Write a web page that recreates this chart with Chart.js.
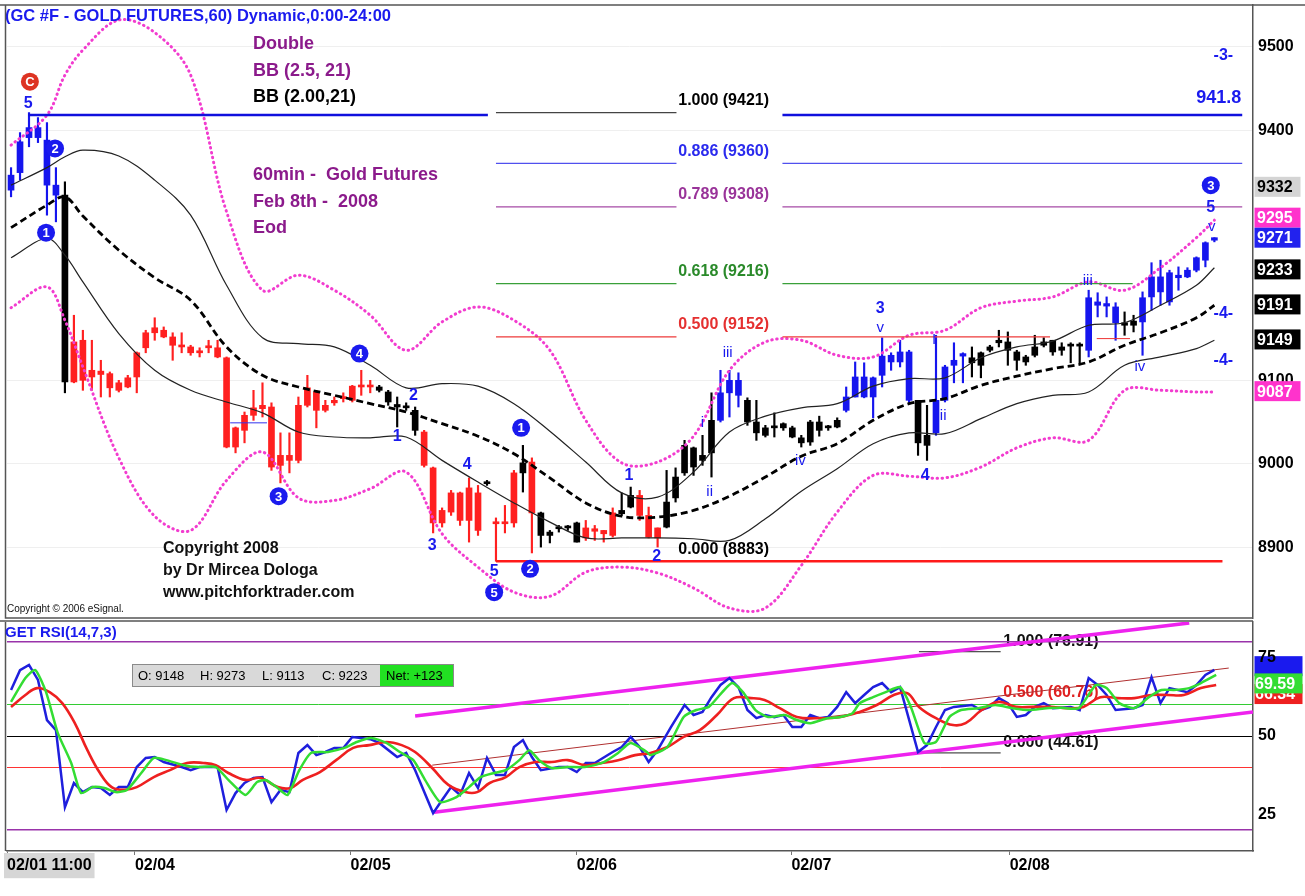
<!DOCTYPE html>
<html>
<head>
<meta charset="utf-8">
<title>GC #F Gold Futures 60min</title>
<script src="https://cdn.jsdelivr.net/npm/chart.js@4.4.1/dist/chart.umd.min.js"></script>
<style>
  body { margin: 0; background: #fff; }
  #priceBox { position: absolute; left: 0; top: 0; width: 1305px; height: 620px; }
  #rsiBox { position: absolute; left: 0; top: 620px; width: 1305px; height: 276px; }
</style>
</head>
<body>
<div id="priceBox"><canvas id="priceChart" width="1305" height="620"></canvas></div>
<div id="rsiBox"><canvas id="rsiChart" width="1305" height="276"></canvas></div>
<script>
const FONT = '"Liberation Sans", Arial, sans-serif';
const BLUE = '#1a1aee';

// hourly candles, 02/01 11:00 -> 02/08 (prices x10)
const barHigh = [
  9355,9397,9421,9415,9409,9355,9338,9178,9160,9148,
  9124,9110,9100,9106,9134,9160,9175,9164,9157,9157,
  9142,9139,9148,9148,9128,9044,9062,9088,9097,9073,
  9037,9037,9080,9106,9088,9076,9080,9085,9094,9112,
  9100,9094,9088,9080,9073,9068,9040,8996,8947,8968,
  8966,8983,8974,8980,8935,8950,8992,9022,9007,8942,
  8920,8926,8926,8930,8932,8926,8920,8947,8965,8972,
  8968,8948,8923,8992,8995,9028,9020,9034,9085,9112,
  9112,9109,9079,9076,9046,9061,9049,9045,9034,9052,
  9057,9046,9055,9092,9122,9121,9104,9151,9133,9148,
  9136,9076,9070,9154,9118,9145,9133,9140,9134,9142,
  9160,9158,9136,9130,9154,9151,9148,9145,9145,9145,
  9208,9205,9200,9193,9182,9178,9206,9241,9244,9232,
  9236,9235,9248,9266,9271
];
const barLow = [
  9320,9340,9380,9385,9298,9290,9085,9097,9088,9088,
  9080,9080,9086,9091,9085,9133,9148,9151,9124,9133,
  9130,9128,9133,9127,9019,9013,9025,9052,9056,8992,
  8977,8989,9001,9068,9043,9062,9070,9074,9074,9082,
  9085,9086,9070,9044,9064,9034,8996,8917,8924,8938,
  8926,8906,8914,8974,8883,8917,8924,8966,8893,8900,
  8905,8918,8920,8906,8908,8908,8906,8912,8938,8947,
  8932,8911,8900,8923,8954,8986,8986,8998,8984,9050,
  9056,9068,9046,9028,9032,9032,9040,9031,9020,9022,
  9033,9040,9043,9062,9080,9079,9055,9092,9112,9116,
  9073,9010,9004,9034,9074,9097,9097,9104,9103,9134,
  9140,9118,9112,9118,9128,9140,9130,9130,9121,9121,
  9128,9176,9176,9148,9154,9158,9130,9184,9190,9190,
  9208,9223,9230,9236,9266
];
const barOpen = [
  9328,9349,9391,9403,9388,9334,9322,9098,9148,9104,
  9111,9108,9097,9092,9104,9139,9157,9160,9152,9142,
  9140,9133,9139,9139,9127,9020,9040,9058,9066,9068,
  8998,9010,9004,9070,9086,9064,9073,9078,9076,9092,
  9094,9092,9086,9071,9069,9064,9038,8995,8929,8942,
  8965,8932,8965,8976,8928,8930,8929,8989,9002,8941,
  8914,8922,8924,8929,8911,8922,8916,8914,8940,8948,
  8962,8938,8911,8924,8959,8989,9019,9004,9013,9052,
  9085,9100,9076,9050,9043,9043,9048,9043,9031,9026,
  9050,9043,9044,9064,9080,9104,9080,9106,9122,9122,
  9134,9076,9022,9037,9076,9118,9129,9127,9118,9136,
  9145,9146,9134,9122,9130,9142,9148,9136,9141,9142,
  9136,9194,9189,9188,9169,9166,9170,9200,9224,9194,
  9226,9224,9232,9244,9268
];
const barClose = [
  9346,9386,9403,9391,9334,9322,9098,9146,9100,9112,
  9107,9091,9088,9103,9133,9157,9163,9152,9142,9140,
  9133,9135,9141,9128,9020,9043,9058,9067,9070,8996,
  9010,9004,9070,9091,9064,9070,9076,9080,9093,9094,
  9092,9088,9074,9068,9067,9040,8998,8929,8944,8965,
  8932,8971,8920,8978,8930,8928,8989,9001,8941,8914,
  8918,8924,8923,8906,8923,8919,8920,8941,8944,8962,
  8938,8912,8923,8954,8984,9022,8996,9010,9052,9085,
  9100,9082,9050,9037,9034,9045,9043,9032,9025,9050,
  9040,9044,9052,9080,9104,9080,9103,9129,9130,9134,
  9076,9025,9034,9076,9116,9124,9132,9121,9133,9140,
  9148,9136,9124,9128,9140,9146,9134,9140,9142,9141,
  9199,9190,9192,9169,9166,9171,9199,9224,9206,9229,
  9223,9232,9247,9265,9271
];
// bar colouring: b = blue, r = red, k = black
const barTone =
  'bbbbbbk' +
  'rrrrrrrrrr' + 'rrrrrrrrrr' + 'rrrrrrrrrr' + 'rrrr' +
  'kkkkk' + 'rrrrrrr' + 'k' + 'rrr' + 'k' + 'r' + 'kkkkk' + 'rrrr' + 'kk' + 'rrr' +
  'kkkkkk' + 'bbb' + 'kkkkkkkkkkk' + 'bbbbbbbb' + 'kk' + 'bbbb' +
  'kkkkkkkkkkkkk' + 'bbbb' + 'kk' + 'bbbbbbbbb';

// Bollinger bands read at these bar positions
const bandAt = [0,4,6,8,12,16,20,24,28,32,36,40,44,48,52,56,60,64,68,72,76,80,84,88,92,96,100,104,108,112,116,120,124,128,132,134];
const bandMid = [9283,9310,9320,9297,9256,9223,9196,9140,9106,9092,9082,9072,9062,9048,9033,9012,8983,8953,8937,8936,8944,8961,8984,9009,9024,9052,9072,9078,9094,9105,9114,9122,9142,9157,9175,9190];
const bandUpper = [9334,9355,9368,9376,9369,9340,9298,9214,9151,9144,9140,9118,9091,9096,9093,9072,9039,9002,8965,8960,8990,9038,9057,9067,9072,9093,9102,9103,9127,9140,9147,9166,9169,9190,9214,9235];
const bandLower = [9247,9270,9250,9218,9156,9112,9088,9074,9061,9038,9032,9031,9032,9004,8978,8953,8930,8911,8911,8911,8910,8908,8934,8967,8994,9024,9037,9036,9054,9072,9082,9086,9118,9128,9138,9148];
const outerUpper = [9382,9418,9466,9496,9532,9517,9466,9302,9208,9226,9208,9178,9136,9170,9188,9172,9136,9052,9001,9002,9033,9112,9146,9148,9130,9128,9154,9160,9187,9195,9200,9218,9208,9235,9271,9292];
const outerLower = [9187,9212,9172,9116,9007,8937,8920,8980,9014,8959,8956,8970,8990,8916,8876,8846,8841,8870,8876,8869,8851,8827,8827,8878,8942,8986,8985,8983,8996,9019,9031,9028,9088,9088,9086,9086];

const priceTicks = [8900, 9000, 9100, 9400, 9500];
const dayTicks = [-0.45, 13.8, 37.8, 63.0, 86.9, 111.2];
const dayLabels = ['02/01 11:00', '02/04', '02/05', '02/06', '02/07', '02/08'];

const fibRatio = ['1.000', '0.886', '0.789', '0.618', '0.500', '0.000'];
const fibPrice = [9421, 9360, 9308, 9216, 9152, 8883];
const fibRightEnd = [null, 137.1, 137.1, 124.9, 115.7, null];
const fibText = ['#000000', '#2a2aee', '#993399', '#2a8a2a', '#e53030', '#000000'];
const fibLine = ['#444444', '#5050ee', '#a64aa6', '#3aa03a', '#ee3a3a', null];

const lastValues = [9332, 9295, 9271, 9233, 9191, 9149, 9087];
const lastFill = ['#d4d4d4', '#ff33cc', '#2222ee', '#000000', '#000000', '#000000', '#ff33cc'];

// wave counts: [bar position, price, text, kind]
const waveMarks = [
  [2.1, 9458, 'C', 'red'], [1.9, 9432, '5', 'num'], [4.9, 9378, '2', 'ring'], [3.9, 9277, '1', 'ring'],
  [38.8, 9132, '4', 'ring'], [44.8, 9082, '2', 'num'], [43.0, 9032, '1', 'num'], [29.8, 8961, '3', 'ring'],
  [46.9, 8902, '3', 'num'], [50.8, 8999, '4', 'num'], [53.8, 8871, '5', 'num'], [53.8, 8846, '5', 'ring'],
  [56.8, 9043, '1', 'ring'], [57.8, 8874, '2', 'ring'], [68.8, 8986, '1', 'num'], [71.9, 8889, '2', 'num'],
  [77.0, 9049, 'i', 'rom'], [77.8, 8966, 'ii', 'rom'], [79.8, 9133, 'iii', 'rom'], [87.9, 9004, 'iv', 'rom'],
  [96.8, 9186, '3', 'num'], [96.8, 9163, 'v', 'rom'], [101.8, 8986, '4', 'num'], [102.8, 9148, 'I', 'rom'],
  [103.8, 9057, 'ii', 'rom'], [119.9, 9219, 'iii', 'rom'], [125.7, 9116, 'iv', 'rom'],
  [133.6, 9334, '3', 'ring'], [133.6, 9307, '5', 'num'], [133.7, 9284, 'v', 'rom'],
  [135.0, 9489, '-3-', 'num'], [135.0, 9180, '-4-', 'num'], [135.0, 9124, '-4-', 'num']
];

// RSI(14,7,3) lines as [bar position, value]
const rsiFast = [
  [0,64.7],[1,71.0],[2,72.7],[3,67.9],[4,55.1],[5,51.9],[6,27.3],[7,35.0],[8,32.1],[9,33.7],[10,33.4],[11,31.2],
  [12,33.7],[13,33.7],[14,40.1],[15,43.0],[16,43.3],[17,41.7],[19,40.1],[20,39.1],[21,40.1],[23,40.1],[24,26.4],
  [25,31.8],[26,35.0],[27,36.6],[28,36.9],[29,28.9],[30,32.8],[31,32.1],[32,44.6],[33,47.1],[34,43.9],[35,44.9],
  [36,46.2],[37,46.2],[38,49.7],[39,49.4],[40,49.0],[41,47.8],[43,43.3],[44,44.6],[45,39.1],[47,25.4],[48,29.6],
  [49,33.7],[50,31.2],[51,38.2],[52,33.4],[53,43.0],[54,37.6],[55,37.6],[56,46.5],[57,48.7],[58,43.3],[59,39.1],
  [61,40.1],[62,40.1],[63,38.5],[64,41.4],[65,41.4],[67,44.9],[68,46.5],[69,49.7],[70,46.5],[71,41.7],[72,45.5],
  [73.5,52.9],[75,59.9],[76,56.7],[77,57.7],[78,62.4],[79,66.3],[80,68.5],[81,65.6],[82,58.3],[83,55.7],[84,56.7],
  [85,56.0],[86,56.7],[87,52.9],[88,52.9],[89,56.7],[90,55.7],[91,56.1],[92,59.3],[93,64.0],[94,60.5],[95,63.1],
  [96,65.6],[97,66.9],[98,64.0],[99,65.6],[101,44.9],[102,47.1],[103,52.9],[104,58.3],[105,59.3],[107,59.9],
  [108,58.3],[109,59.3],[110,62.1],[111,60.5],[112,56.1],[113,56.7],[114,59.3],[115,60.5],[116,58.9],[118,59.3],
  [119,58.3],[120,68.5],[121,66.3],[122,63.1],[123,58.3],[125,58.9],[126,59.9],[127,68.8],[128,60.5],[129,65.3],
  [131,64.0],[132,66.3],[133,69.5],[134,71.1]
];
const rsiSignal = [
  [0,60.9],[1.6,68.5],[2.7,71.1],[3.9,64.0],[5.2,51.0],[6.7,41.4],[7.8,31.8],[9.1,33.7],[10.4,33.4],[11.7,32.1],
  [12.9,32.8],[14.5,38.2],[15.9,43.0],[17.3,42.3],[19.2,40.7],[20.9,40.1],[22.8,40.1],[24.2,36.0],[26.1,31.2],
  [27.4,35.3],[28.4,35.9],[29.7,33.4],[30.8,31.2],[32.1,39.1],[33.4,44.6],[35.3,44.9],[37.1,46.2],[38.5,48.1],
  [40.1,49.4],[41.8,47.8],[43.3,44.9],[44.8,42.3],[46.1,36.0],[47.8,28.9],[49.6,30.5],[51.0,33.7],[52.3,36.9],
  [53.8,38.2],[55.1,39.1],[56.6,42.3],[57.7,45.5],[58.8,42.3],[60.2,39.8],[62.0,40.1],[63.9,40.1],[65.8,41.4],
  [67.6,44.6],[69.0,47.8],[70.8,44.9],[71.2,43.9],[73.1,46.5],[74.9,56.1],[76.3,58.3],[77.7,59.3],[79.2,64.0],
  [80.3,66.9],[81.5,64.0],[82.9,58.3],[84.3,56.1],[86.2,56.7],[87.5,55.1],[89.0,54.1],[90.9,55.7],[92.2,56.0],
  [93.7,57.3],[94.5,60.5],[96.0,62.4],[97.4,64.0],[99.0,65.6],[100.2,59.3],[101.7,47.8],[103.0,48.1],[104.5,56.1],
  [105.8,58.3],[107.7,58.9],[109.6,59.9],[111.5,58.9],[113.4,58.3],[115.3,58.9],[117.0,59.0],[118.9,58.9],
  [120.8,66.3],[122.0,65.3],[123.4,60.5],[125.1,58.9],[126.7,62.4],[128.1,64.7],[129.5,64.7],[131.2,65.3],
  [132.5,66.9],[134.2,69.5]
];
const rsiSlow = [
  [0,59.3],[1.6,63.1],[2.9,65.3],[4.3,64.0],[5.7,60.5],[7.1,54.1],[8.5,45.5],[9.9,38.2],[11.2,33.7],[12.6,32.8],
  [14.0,33.7],[15.9,36.9],[17.7,39.1],[19.6,41.4],[21.4,41.4],[22.8,40.7],[24.2,38.2],[26.1,36.0],[27.8,36.6],
  [29.7,33.7],[31.1,33.4],[32.5,36.0],[34.4,38.5],[36.2,42.3],[38.1,46.2],[39.9,47.1],[41.8,48.1],[43.5,47.1],
  [45.0,44.9],[46.9,39.8],[48.7,34.4],[50.6,32.1],[51.9,32.1],[53.3,35.0],[55.1,36.9],[56.6,40.1],[58.4,41.7],
  [60.2,41.7],[62.0,42.3],[63.9,40.7],[65.8,41.4],[67.6,42.3],[69.5,43.9],[71.2,44.6],[73.1,46.5],[74.9,49.7],
  [76.7,51.9],[78.6,56.7],[80.5,62.1],[82.4,62.1],[83.9,61.5],[85.6,58.9],[87.5,56.1],[89.9,55.7],[92.2,56.0],
  [94.5,57.7],[96.4,59.9],[98.3,63.1],[99.8,63.7],[101.1,59.3],[103.0,55.7],[104.9,53.5],[106.3,54.1],[108.1,58.3],
  [110.0,60.9],[111.9,59.3],[113.8,59.3],[115.7,59.3],[117.6,58.9],[119.4,59.3],[121.3,62.4],[123.2,62.1],
  [125.1,62.1],[127.0,63.1],[128.8,63.1],[130.6,63.1],[132.5,65.3],[134.2,66.3]
];
const rsiChannelUp = [[45.0, 56.4], [131.2, 86.1]];
const rsiChannelDown = [[47.1, 25.7], [138.3, 57.7]];
const rsiMidTrend = [[46.9, 40.7], [135.6, 71.7]];
const rsiTicks = [20, 25, 40, 50, 60, 75, 80];
const rsiFibRatio = ['1.000', '0.500', '0.000'];
const rsiFibValue = [76.91, 60.76, 44.61];
const rsiLastAt = [72.3, 63.4, 66.8];
const rsiLastText = ['', '66.34', '69.59'];
const rsiLastFill = ['#1a1aee', '#ee2020', '#33dd33'];
const quoteNames = ['O', 'H', 'L', 'C'];
const quoteValues = [9148, 9273, 9113, 9223];
const quoteNet = '+123';

const toneColor = { b: '#1515ee', r: '#ff2020', k: '#000000' };
const pts = pairs => pairs.map(p => ({ x: p[0], y: p[1] }));
const band = vals => bandAt.map((x, k) => ({ x, y: vals[k] }));

function txt(ctx, s, x, y, font, color, align) {
  ctx.font = font;
  ctx.fillStyle = color;
  ctx.textAlign = align || 'left';
  ctx.textBaseline = 'middle';
  ctx.fillText(s, x, y);
}
function hline(ctx, x1, x2, y, color, w) {
  ctx.beginPath();
  ctx.strokeStyle = color;
  ctx.lineWidth = w;
  ctx.moveTo(x1, y);
  ctx.lineTo(x2, y);
  ctx.stroke();
}
function ring(ctx, s, x, y, fill) {
  ctx.beginPath();
  ctx.arc(x, y, 9, 0, Math.PI * 2);
  ctx.fillStyle = fill;
  ctx.fill();
  txt(ctx, s, x, y + 1, `bold 13px ${FONT}`, '#fff', 'center');
}
// keep the plot area flush with the layout padding (no room for half tick labels)
function noEdgePadding(s) {
  s.paddingTop = 0;
  s.paddingBottom = 0;
  s.paddingLeft = 0;
  s.paddingRight = 0;
}

const priceOverlay = {
  id: 'priceOverlay',
  afterDatasetsDraw(chart) {
    const { ctx, scales: { x, y } } = chart;
    ctx.save();
    // fibonacci retracement
    const fx1 = x.getPixelForValue(54.0), fx2 = x.getPixelForValue(74.1);
    const fxr = x.getPixelForValue(85.9), fxt = x.getPixelForValue(74.3);
    fibPrice.forEach((p, k) => {
      const py = y.getPixelForValue(p);
      if (fibLine[k]) hline(ctx, fx1, fx2, py, fibLine[k], 1.2);
      if (fibRightEnd[k]) hline(ctx, fxr, x.getPixelForValue(fibRightEnd[k]), py, fibLine[k], 1.2);
      txt(ctx, `${fibRatio[k]} (${p})`, fxt, py - 12, `bold 16px ${FONT}`, fibText[k]);
    });
    // horizontal reference lines
    const y9418 = y.getPixelForValue(9418);
    hline(ctx, x.getPixelForValue(1.9), x.getPixelForValue(53.1), y9418, '#1010dd', 2.5);
    hline(ctx, fxr, x.getPixelForValue(137.1), y9418, '#1010dd', 2.5);
    hline(ctx, fx1, x.getPixelForValue(134.9), y.getPixelForValue(8883), '#ff1a1a', 2.5);
    hline(ctx, x.getPixelForValue(24.4), x.getPixelForValue(28.5), y.getPixelForValue(9049), '#3333ee', 1);
    hline(ctx, x.getPixelForValue(120.9), x.getPixelForValue(124.6), y.getPixelForValue(9150), '#ee3333', 1);
    txt(ctx, '941.8', x.getPixelForValue(137.0), y.getPixelForValue(9438), `bold 18px ${FONT}`, BLUE, 'right');

    // wave labels
    waveMarks.forEach(([i, p, s, kind]) => {
      const px = x.getPixelForValue(i), py = y.getPixelForValue(p);
      if (kind === 'ring') ring(ctx, s, px, py, BLUE);
      else if (kind === 'red') ring(ctx, s, px, py, '#dd3322');
      else if (kind === 'num') txt(ctx, s, px, py, `bold 16px ${FONT}`, BLUE, 'center');
      else txt(ctx, s, px, py, `15px ${FONT}`, BLUE, 'center');
    });

    // titles
    txt(ctx, '(GC #F - GOLD FUTURES,60) Dynamic,0:00-24:00', 5, 16, `bold 16.5px ${FONT}`, BLUE);
    const purple = '#8b1a8b';
    txt(ctx, 'Double', 253, 44, `bold 18px ${FONT}`, purple);
    txt(ctx, 'BB (2.5, 21)', 253, 71, `bold 18px ${FONT}`, purple);
    txt(ctx, 'BB (2.00,21)', 253, 97, `bold 18px ${FONT}`, '#000');
    txt(ctx, '60min -  Gold Futures', 253, 175, `bold 18px ${FONT}`, purple);
    txt(ctx, 'Feb 8th -  2008', 253, 202, `bold 18px ${FONT}`, purple);
    txt(ctx, 'Eod', 253, 228, `bold 18px ${FONT}`, purple);
    txt(ctx, 'Copyright 2008', 163, 549, `bold 16px ${FONT}`, '#111');
    txt(ctx, 'by Dr Mircea Dologa', 163, 571, `bold 16px ${FONT}`, '#111');
    txt(ctx, 'www.pitchforktrader.com', 163, 593, `bold 16px ${FONT}`, '#111');
    txt(ctx, 'Copyright \u00a9 2006 eSignal.', 7, 609, `10px ${FONT}`, '#111');
    ctx.restore();
  },
  afterDraw(chart) {
    const { ctx, chartArea: a, scales: { y } } = chart;
    ctx.save();
    lastValues.forEach((v, k) => {
      const py = y.getPixelForValue(v);
      ctx.fillStyle = lastFill[k];
      ctx.fillRect(a.right + 1.5, py - 10, 46, 20);
      txt(ctx, String(v), a.right + 4, py + 1, `bold 16px ${FONT}`, k === 0 ? '#000' : '#fff');
    });
    ctx.strokeStyle = '#555';
    ctx.lineWidth = 1.5;
    ctx.beginPath();
    ctx.moveTo(0, a.top); ctx.lineTo(chart.width, a.top);
    ctx.moveTo(a.left - 1.5, a.top); ctx.lineTo(a.left - 1.5, a.bottom);
    ctx.lineTo(a.right, a.bottom);
    ctx.stroke();
    ctx.restore();
  }
};

new Chart(document.getElementById('priceChart'), {
  type: 'bar',
  data: {
    datasets: [
      { type: 'line', data: band(outerUpper), borderColor: '#f23ccf', borderWidth: 3, borderDash: [0.5, 4.5], borderCapStyle: 'round', pointRadius: 0, tension: 0.35, order: 0 },
      { type: 'line', data: band(outerLower), borderColor: '#f23ccf', borderWidth: 3, borderDash: [0.5, 4.5], borderCapStyle: 'round', pointRadius: 0, tension: 0.35, order: 0 },
      { type: 'line', data: band(bandMid), borderColor: '#000', borderWidth: 2.8, borderDash: [7, 4], pointRadius: 0, tension: 0.35, order: 1 },
      { type: 'line', data: band(bandUpper), borderColor: '#222', borderWidth: 1.2, pointRadius: 0, tension: 0.35, order: 2 },
      { type: 'line', data: band(bandLower), borderColor: '#222', borderWidth: 1.2, pointRadius: 0, tension: 0.35, order: 2 },
      {
        data: barHigh.map((h, i) => ({ x: i, y: [barLow[i], h] })),
        backgroundColor: c => toneColor[barTone[c.dataIndex]],
        barThickness: 1.5, grouped: false, order: 4
      },
      {
        data: barOpen.map((o, i) => ({ x: i, y: [o, barClose[i]] })),
        backgroundColor: c => toneColor[barTone[c.dataIndex]],
        barThickness: 6, minBarLength: 2, grouped: false, order: 3
      }
    ]
  },
  options: {
    responsive: false,
    animation: false,
    events: [],
    layout: { padding: { left: 7, top: 5, bottom: 2, right: 0 } },
    plugins: { legend: { display: false }, tooltip: { enabled: false } },
    scales: {
      x: { type: 'linear', min: -0.45, max: 138.3, offset: false, display: false },
      y: {
        position: 'right', min: 8815, max: 9550,
        afterBuildTicks: s => { s.ticks = priceTicks.map(v => ({ value: v })); },
        afterFit: s => { s.width = 52; noEdgePadding(s); },
        ticks: { callback: v => String(v), font: { family: FONT, size: 16, weight: 'bold' }, color: '#000', padding: 5 },
        grid: { color: '#efefef', drawTicks: false },
        border: { color: '#555', width: 1.5 }
      }
    }
  },
  plugins: [priceOverlay]
});

const rsiOverlay = {
  id: 'rsiOverlay',
  beforeDraw(chart) {
    const { ctx, chartArea: a, scales: { x, y } } = chart;
    ctx.save();
    rsiLastAt.forEach((v, k) => {
      const py = y.getPixelForValue(v);
      ctx.fillStyle = rsiLastFill[k];
      ctx.fillRect(a.right + 1.5, py - 10, 48, 20);
      if (rsiLastText[k]) txt(ctx, rsiLastText[k], a.right + 2, py + 1, `bold 16px ${FONT}`, '#fff');
    });
    const lx1 = x.getPixelForValue(101.1), lx2 = x.getPixelForValue(110.2), tx = x.getPixelForValue(110.5);
    rsiFibValue.forEach((v, k) => {
      const py = y.getPixelForValue(v);
      if (k !== 1) hline(ctx, lx1, lx2, py, '#222', 1);
      txt(ctx, `${rsiFibRatio[k]} (${v})`, tx, py - 10, `bold 16px ${FONT}`, k === 1 ? '#e02020' : '#111');
    });
    ctx.restore();
  },
  afterDraw(chart) {
    const { ctx, chartArea: a } = chart;
    ctx.save();
    ctx.strokeStyle = '#555';
    ctx.lineWidth = 1.5;
    ctx.beginPath();
    ctx.moveTo(0, a.top - 1); ctx.lineTo(a.right, a.top - 1);
    ctx.moveTo(a.left - 1.5, a.top); ctx.lineTo(a.left - 1.5, a.bottom);
    ctx.stroke();
    txt(ctx, 'GET RSI(14,7,3)', 5, 13, `bold 15px ${FONT}`, BLUE);
    // quote strip
    ctx.fillStyle = '#d9d9d9';
    ctx.fillRect(132, 44, 248, 22);
    ctx.fillStyle = '#22e022';
    ctx.fillRect(380, 44, 74, 22);
    ctx.strokeStyle = '#8a8a8a';
    ctx.lineWidth = 1;
    ctx.strokeRect(132.5, 44.5, 321, 22);
    const qx = [138, 200, 262, 322];
    quoteNames.forEach((n, k) => txt(ctx, `${n}: ${quoteValues[k]}`, qx[k], 56, `13px ${FONT}`, '#000'));
    txt(ctx, `Net: ${quoteNet}`, 386, 56, `13px ${FONT}`, '#000');
    ctx.restore();
  }
};

const levelStyle = {
  20: ['#9933aa', 1.5], 80: ['#9933aa', 1.5], 60: ['#33cc33', 1], 50: ['#000000', 1], 40: ['#ff3333', 1],
  25: ['rgba(0,0,0,0)', 0], 75: ['rgba(0,0,0,0)', 0]
};

new Chart(document.getElementById('rsiChart'), {
  type: 'line',
  data: {
    datasets: [
      { data: pts(rsiChannelUp), borderColor: '#ee22ee', borderWidth: 3.5, pointRadius: 0, order: 5 },
      { data: pts(rsiChannelDown), borderColor: '#ee22ee', borderWidth: 3.5, pointRadius: 0, order: 5 },
      { data: pts(rsiMidTrend), borderColor: '#b03030', borderWidth: 1, pointRadius: 0, order: 4 },
      { data: pts(rsiFast), borderColor: '#1f1fdd', borderWidth: 2.5, pointRadius: 0, tension: 0, order: 2 },
      { data: pts(rsiSlow), borderColor: '#ee2020', borderWidth: 2.6, pointRadius: 0, tension: 0.4, order: 1 },
      { data: pts(rsiSignal), borderColor: '#33dd33', borderWidth: 2.5, pointRadius: 0, tension: 0.2, order: 0 }
    ]
  },
  options: {
    responsive: false,
    animation: false,
    events: [],
    layout: { padding: { left: 7, top: 2, bottom: 0, right: 0 } },
    plugins: { legend: { display: false }, tooltip: { enabled: false } },
    scales: {
      x: {
        type: 'linear', min: -0.45, max: 138.3, offset: false,
        afterBuildTicks: s => { s.ticks = dayTicks.map(v => ({ value: v })); },
        afterFit: s => { s.height = 45; noEdgePadding(s); },
        ticks: {
          autoSkip: false, maxRotation: 0, align: 'start', padding: 1,
          callback: (v, i) => dayLabels[i],
          font: { family: FONT, size: 16, weight: 'bold' }, color: '#000',
          showLabelBackdrop: c => c.index === 0,
          backdropColor: '#d6d6d6',
          backdropPadding: { top: 3, bottom: 3, left: 3, right: 3 }
        },
        grid: { drawOnChartArea: false, tickLength: 4, color: '#777' },
        border: { color: '#555', width: 1.5 }
      },
      y: {
        position: 'right', min: 13.3, max: 86.4,
        afterBuildTicks: s => { s.ticks = rsiTicks.map(v => ({ value: v })); },
        afterFit: s => { s.width = 52; noEdgePadding(s); },
        ticks: {
          callback: v => ([25, 50, 75].includes(v) ? String(v) : ''),
          font: { family: FONT, size: 16, weight: 'bold' }, color: '#000', padding: 5
        },
        grid: {
          drawTicks: false,
          color: c => (c.tick && levelStyle[c.tick.value] ? levelStyle[c.tick.value][0] : 'rgba(0,0,0,0)'),
          lineWidth: c => (c.tick && levelStyle[c.tick.value] ? levelStyle[c.tick.value][1] : 0)
        },
        border: { color: '#555', width: 1.5 }
      }
    }
  },
  plugins: [rsiOverlay]
});
</script>
</body>
</html>
